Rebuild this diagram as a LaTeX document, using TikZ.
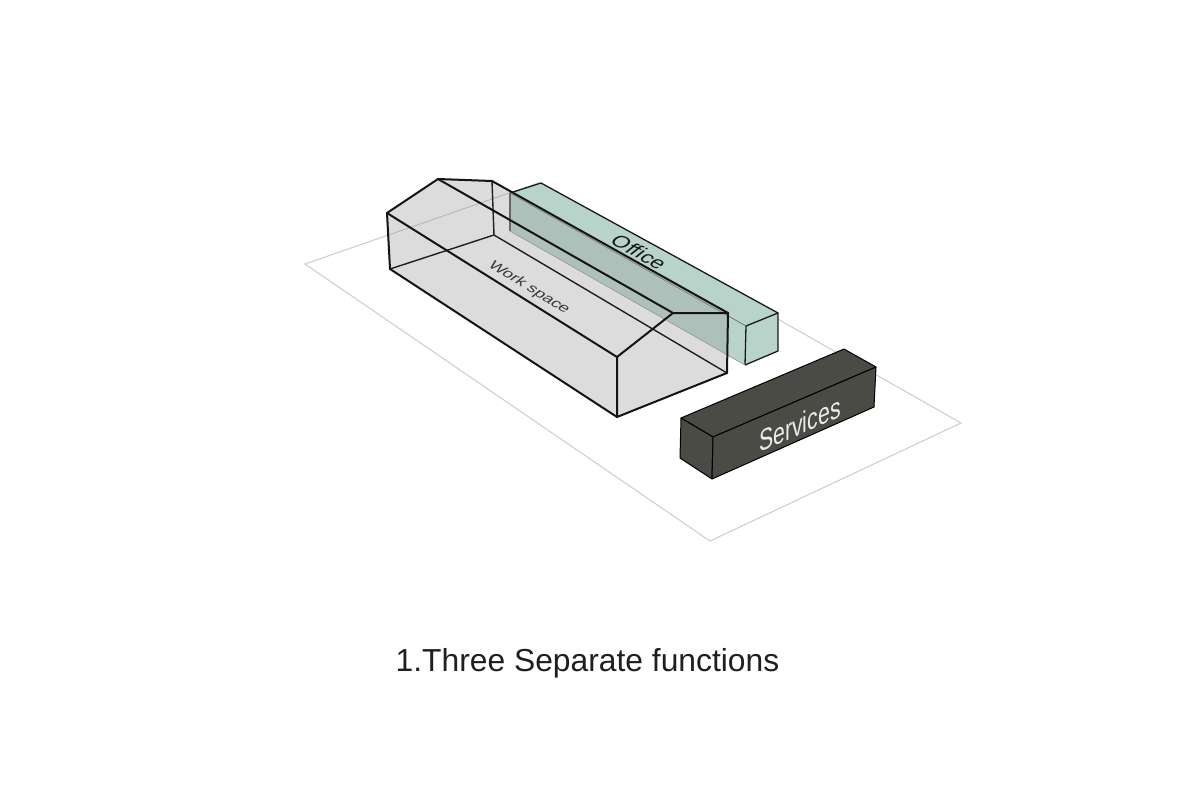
\documentclass[tikz,border=0pt]{standalone}
\usepackage{fontspec}
\setmainfont{Liberation Sans}
\tikzset{
  ground/.style={draw=black!20,line width=1pt,line join=miter},
  officefill/.style={fill=officeC},
  officeedge/.style={draw=black!90,line width=1.3pt,line join=round},
  shell/.style={fill=shellC,fill opacity=.35},
  shelledge/.style={draw=black!92,line width=2pt,line join=round,line cap=round},
  shellthin/.style={draw=black!88,line width=1.4pt,line cap=round},
  servface/.style={fill=servC,draw=black,line width=1pt,line join=round},
}
\definecolor{officeC}{HTML}{B8D4CA}
\definecolor{shellC}{HTML}{9B9B9B}
\definecolor{servC}{HTML}{4A4B44}
\begin{document}
\begin{tikzpicture}[x=1pt,y=-1pt]
\useasboundingbox (0,0) rectangle (1200,800);
\fill[white] (0,0) rectangle (1200,800);
% ground
\draw[ground] (538,183) -- (305,264) -- (710,541) -- (961,423) -- cycle;
% office
\path[officefill] (510,193) -- (541,183) -- (778,313) -- (778,351) -- (745,365) -- (510,231) -- cycle;
\draw[officeedge] (510,193) -- (541,183) -- (778,313) -- (778,351) -- (745,365);
\draw[officeedge] (778,313) -- (746,326) -- (745,365);
\draw[draw=black!55,line width=.8pt] (510,193) -- (746,326);
\draw[draw=black!70,line width=1.1pt] (510,193) -- (510,231);
\draw[draw=black!40,line width=.7pt] (510,231) -- (745,365);
\node[font=\fontsize{23}{23}\selectfont,text=black!90,inner sep=0pt,cm={.83,-.46,.68,.55,(0,0)}] (office) at (639,252) {Office};
% work space
\path[shell] (387,213) -- (438,179) -- (492,181) -- (728,313) -- (727,373) -- (617,417) -- (390,269) -- cycle;
\draw[shellthin] (390,269) -- (494,235) -- (727,373);
\draw[shellthin] (492,181) -- (494,235);
\draw[shelledge] (387,213) -- (438,179) -- (492,181) -- (728,313) -- (727,373) -- (617,417) -- (390,269) -- cycle;
\draw[shelledge] (387,213) -- (617,357) -- (617,417);
\draw[shelledge] (438,179) -- (673,313) -- (728,313);
\draw[shelledge] (617,357) -- (673,313);
\node[font=\fontsize{18}{18}\selectfont,text=black!78,inner sep=0pt,cm={.82,-.50,.62,.50,(0,0)}] (work) at (529,288) {Work space};
% services
\path[servface] (681,418) -- (844,349) -- (876,367) -- (713,437) -- cycle;
\path[servface] (681,418) -- (713,437) -- (712,479) -- (680,458) -- cycle;
\path[servface] (713,437) -- (876,367) -- (874,407) -- (712,479) -- cycle;
\node[font=\fontsize{25}{25}\selectfont,text=white!92!black,inner sep=0pt,cm={.85,.37,0,1.2,(0,0)}] (serv) at (800,424) {Services};
% caption
\node[font=\fontsize{31.8}{32}\selectfont,text=black!88,inner sep=0pt,anchor=base] (cap) at (587.5,671) {1.Three Separate functions};
\end{tikzpicture}
\end{document}
